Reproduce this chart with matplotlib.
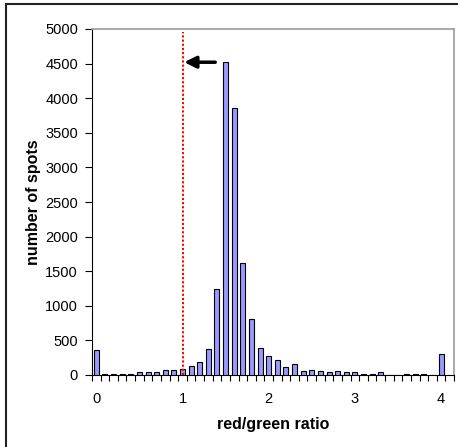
import matplotlib
matplotlib.use("Agg")
import matplotlib.pyplot as plt
import numpy as np
from matplotlib.lines import Line2D

plt.rcParams['font.family'] = ['Liberation Sans', 'DejaVu Sans']

ratios = [round(0.1 * i, 1) for i in range(41)]
counts = [357, 20, 20, 20, 20, 43, 43, 43, 72, 72,
          92, 125, 193, 376, 1245, 4530, 3855, 1615, 815, 393,
          274, 222, 122, 159, 53, 72, 53, 39, 53, 39,
          39, 20, 20, 39, 0, 0, 20, 20, 20, 0,
          309]
x_labels = ['0', '1', '2', '3', '4']
x_label_pos = [0, 1, 2, 3, 4]
y_ticks = list(range(0, 5001, 500))
threshold = 1.0
arrow_y = 4520
arrow_from = 1.38

fig = plt.figure(figsize=(4.58, 4.47), dpi=100)
ax = fig.add_axes([92/458, 72/447, (454-92)/458, (375-29)/447])

ax.bar(ratios, counts, width=0.058, color='#9999ff', edgecolor='black', linewidth=0.8, zorder=3)

ax.set_xlim(-0.05, 4.15)
ax.set_ylim(0, 5000)

# category boundary ticks
bounds = np.arange(-0.05, 4.16, 0.1)
ax.set_xticks(bounds)
ax.set_xticklabels([])
ax.set_xticks(x_label_pos, minor=True)
ax.set_xticklabels(x_labels, minor=True)
ax.tick_params(axis='x', which='major', direction='out', length=4, width=0.8, color='black')
ax.tick_params(axis='x', which='minor', length=0, labelsize=10.5, pad=12)

ax.set_yticks(y_ticks)
ax.set_yticklabels([str(v) for v in y_ticks])
ax.tick_params(axis='y', direction='out', length=5, width=0.8, labelsize=10.5, pad=5)

for s in ['top', 'right']:
    ax.spines[s].set_color('#999999')
    ax.spines[s].set_linewidth(1.2)
for s in ['left', 'bottom']:
    ax.spines[s].set_color('black')
    ax.spines[s].set_linewidth(0.8)

ax.set_xlabel('red/green ratio', fontsize=11.5, fontweight='bold', labelpad=8)
ax.set_ylabel('number of spots', fontsize=11.5, fontweight='bold', labelpad=3)

ax.plot([threshold, threshold], [0, 4950], color='red', linestyle=(0, (1, 1)), linewidth=1.5, zorder=4)
ax.annotate('', xy=(threshold + 0.02, arrow_y), xytext=(arrow_from, arrow_y),
            arrowprops=dict(arrowstyle='-|>,head_length=0.7,head_width=0.35', color='black', lw=2.5,
                            shrinkA=0, shrinkB=0), zorder=5)

# outer frame (top & left visible)
fig.add_artist(Line2D([6/458, 6/458], [0, 1 - 4/447], transform=fig.transFigure, color='#222222', lw=1.5))
fig.add_artist(Line2D([6/458, 1], [1 - 4/447, 1 - 4/447], transform=fig.transFigure, color='#222222', lw=1.5))

fig.savefig('out.png', dpi=100)
